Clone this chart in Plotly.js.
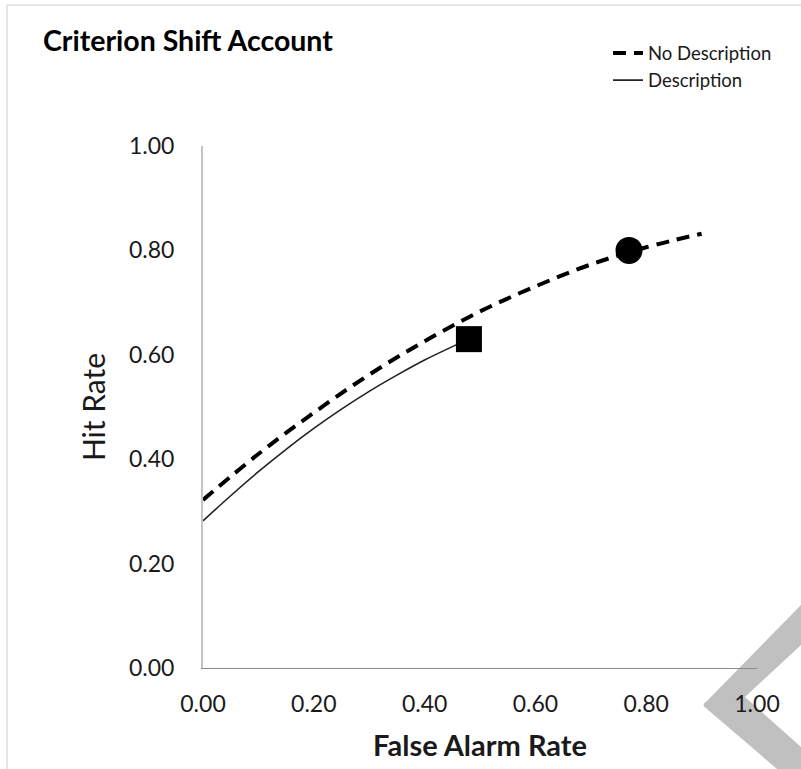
<!DOCTYPE html>
<html>
<head>
<meta charset="utf-8">
<script src="https://cdn.plot.ly/plotly-3.0.1.min.js"></script>
<style>html,body{margin:0;padding:0;background:#fff;}#chart{width:801px;height:769px;}</style>
</head>
<body>
<div id="chart"></div>
<script>
// ---- data ----
const faNoDesc  = [0.00, 0.10, 0.20, 0.30, 0.40, 0.50, 0.60, 0.70, 0.80, 0.90];
const hitNoDesc = [0.322, 0.410, 0.489, 0.562, 0.626, 0.683, 0.731, 0.773, 0.806, 0.832];
const faDesc    = [0.00, 0.05, 0.10, 0.15, 0.20, 0.25, 0.30, 0.35, 0.40, 0.457];
const hitDesc   = [0.282, 0.330, 0.376, 0.419, 0.459, 0.496, 0.530, 0.561, 0.590, 0.619];
const faSquare  = [0.48];
const hitSquare = [0.63];
const faCircle  = [0.769];
const hitCircle = [0.80];
const tickVals  = [0.00, 0.20, 0.40, 0.60, 0.80, 1.00];
const seriesNames = ["No Description", "Description"];

// ---- layout geometry ----
const W = 801, H = 769;
const M = {l: 203, r: 44, t: 146, b: 101};
const PW = W - M.l - M.r, PH = H - M.t - M.b;
const px = x => (x - M.l) / PW;
const py = y => (H - M.b - y) / PH;
const P = (x, y) => px(x).toFixed(4) + ',' + py(y).toFixed(4);

const FONT = 'Lato, "Open Sans", sans-serif';
const INK = '#1a1a1a';

const traces = [
  {x: faNoDesc, y: hitNoDesc, mode: 'lines', name: seriesNames[0],
   line: {color: '#000', width: 4, dash: '13px,8px', shape: 'spline'}, legendgroup: 'a'},
  {x: faDesc, y: hitDesc, mode: 'lines', name: seriesNames[1],
   line: {color: '#222', width: 1.6, shape: 'spline'}, legendgroup: 'b'},
  {x: faSquare, y: hitSquare, mode: 'markers', showlegend: false,
   marker: {symbol: 'square', size: 26, color: '#000'}},
  {x: faCircle, y: hitCircle, mode: 'markers', showlegend: false,
   marker: {symbol: 'circle', size: 27, color: '#000'}}
];

const chevron = 'M' + P(801,605) + ' L' + P(707,701) + ' Q' + P(700,705) + ' ' + P(707,709) +
  ' L' + P(777,769) + ' L' + P(801,769) + ' L' + P(801,747) + ' L' + P(745,697) +
  ' L' + P(801,645) + ' Z';

const layout = {
  width: W, height: H,
  margin: M,
  paper_bgcolor: '#fff',
  plot_bgcolor: 'rgba(0,0,0,0)',
  font: {family: FONT, color: INK},
  title: {text: '<b>Criterion Shift Account</b>', font: {family: FONT, size: 28.5, color: '#000'},
          xref: 'container', yref: 'container', x: 43 / W, xanchor: 'left',
          y: 1 - 41 / H, yanchor: 'middle'},
  showlegend: true,
  legend: {x: px(608), y: py(34.5), xanchor: 'left', yanchor: 'top',
           font: {family: FONT, size: 18.5, color: INK}, bgcolor: 'rgba(0,0,0,0)',
           traceorder: 'grouped', tracegroupgap: 0},
  xaxis: {range: [0, 1], tickvals: tickVals, tickformat: '.2f', showgrid: false, zeroline: false,
          showline: true, linecolor: '#8c8c8c', linewidth: 1, ticks: 'outside', ticklen: 0,
          ticklabelstandoff: 15, tickfont: {family: FONT, size: 23, color: INK}, fixedrange: true,
          title: {text: '<b>False Alarm Rate</b>', font: {family: FONT, size: 29, color: INK}, standoff: 20}},
  yaxis: {range: [0, 1], tickvals: tickVals, tickformat: '.2f', showgrid: false, zeroline: false,
          showline: true, linecolor: '#c4c4c4', linewidth: 2, ticks: 'outside', ticklen: 0,
          ticklabelstandoff: 22, tickfont: {family: FONT, size: 23, color: INK}, fixedrange: true,
          title: {text: 'Hit Rate', font: {family: FONT, size: 30, color: INK}, standoff: 14}},
  shapes: [
    {type: 'path', xref: 'paper', yref: 'paper', path: chevron, fillcolor: '#c0c0c0',
     line: {width: 0}, layer: 'below'},
    {type: 'line', xref: 'paper', yref: 'paper', x0: px(7), x1: px(801), y0: py(5), y1: py(5),
     line: {color: '#dcdcdc', width: 1.5}, layer: 'below'},
    {type: 'line', xref: 'paper', yref: 'paper', x0: px(7), x1: px(7), y0: py(5), y1: py(769),
     line: {color: '#dcdcdc', width: 1.5}, layer: 'below'}
  ]
};

Plotly.newPlot('chart', traces, layout, {displayModeBar: false, staticPlot: true});
</script>
</body>
</html>
